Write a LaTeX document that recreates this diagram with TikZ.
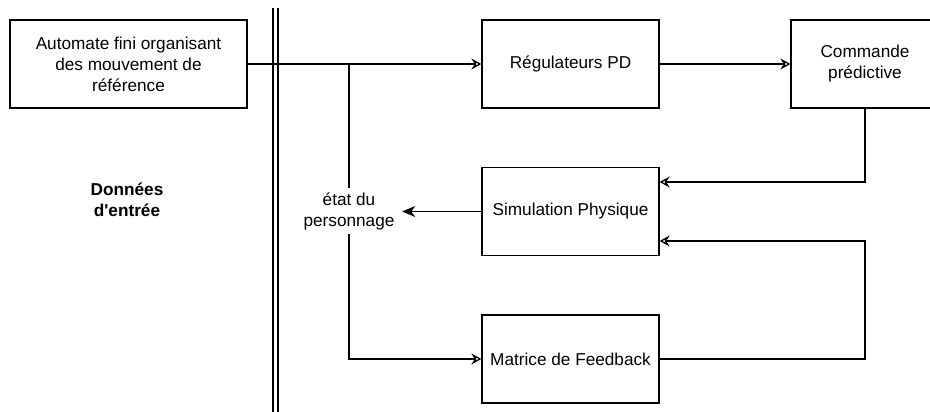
\documentclass[tikz,border=0pt]{standalone}
\usepackage{fontspec}
\setmainfont{Liberation Sans}
\usetikzlibrary{arrows.meta}
\begin{document}
\begin{tikzpicture}[x=1pt,y=-1pt,
  txt/.style={font=\fontsize{17.2}{21}\selectfont},
  box/.style={draw,line width=1.3pt,minimum width=177pt,minimum height=88pt,inner sep=0pt,align=center,txt},
  lbl/.style={align=center,inner sep=0pt,txt},
  conn/.style={line width=1.3pt},
  oarr/.style={conn,-{Stealth[open,length=10pt,width=11pt,inset=3.5pt]}},
  farr/.style={conn,-{Stealth[length=13pt,width=11pt,inset=4pt]}}]
\useasboundingbox (0,0) rectangle (930,412);
\node[box,minimum width=237pt] (auto) at (128.5,64) {Automate fini organisant\\des mouvement de\\référence};
\node[box] (pd) at (570.5,64) {Régulateurs PD};
\node[box,minimum width=178pt] (cmd) at (880,64) {};
\node[lbl] (cmdt) at (865,64) {Commande\\prédictive};
\node[box] (sim) at (570.5,211.5) {Simulation Physique};
\node[box] (mat) at (570.5,359) {Matrice de Feedback};
\node[lbl,font=\fontsize{17.2}{21}\selectfont\bfseries] (don) at (127,200) {Données\\d\textquotesingle entrée};
\node[lbl,inner sep=0pt,minimum width=106pt,minimum height=46pt] (etat) at (349,211) {état du\\personnage};
\coordinate (j1) at (349,64);
\coordinate (c1) at (865,182);
\coordinate (c2) at (865,359);
\coordinate (c3) at (349,359);
\draw[conn] (273,8) -- (273,412);
\draw[conn] (278,8) -- (278,412);
\draw[oarr] (auto.east) -- (pd.west);
\draw[oarr] (pd.east) -- (cmd.west);
\draw[conn] (j1) -- (etat.north);
\draw[oarr] (cmd.south -| c1) -- (c1) -- (c1 -| sim.east);
\draw[oarr] (mat.east) -- (c2) -- (c2 |- 0,241) -- (sim.east |- 0,241);
\draw[farr] (sim.west) -- (sim.west -| etat.east);
\draw[oarr] (etat.south) -- (c3) -- (mat.west);
\end{tikzpicture}
\end{document}
